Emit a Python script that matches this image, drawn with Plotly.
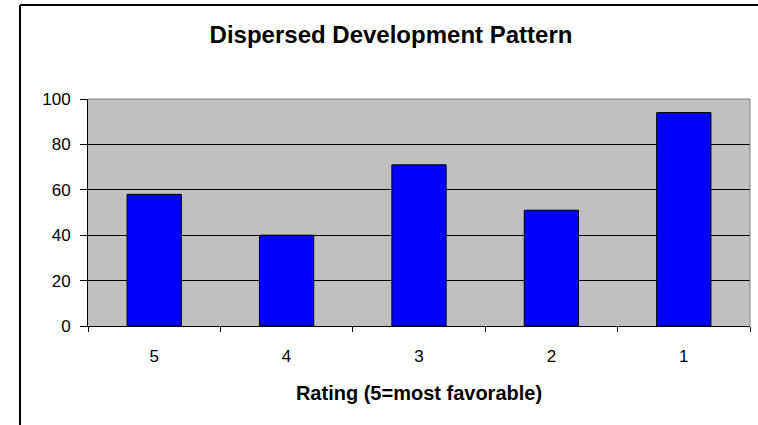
import plotly.graph_objects as go

ratings = ["5", "4", "3", "2", "1"]
counts = [58, 40, 71, 51, 94]

chart_title = "Dispersed Development Pattern"
x_title = "Rating (5=most favorable)"
y_ticks = [0, 20, 40, 60, 80, 100]

font_family = "Liberation Sans, Arial, sans-serif"

fig = go.Figure()
fig.add_trace(go.Bar(x=ratings, y=counts, width=0.41,
                     marker=dict(color="#0000FF", line=dict(color="black", width=1))))

fig.update_layout(
    width=758, height=425,
    margin=dict(l=88, r=8, t=99, b=99),
    paper_bgcolor="white", plot_bgcolor="#C0C0C0",
    showlegend=False,
    font=dict(family=font_family, color="black", size=17),
    title=dict(text="<b>" + chart_title + "</b>", x=391 / 758, y=1 - 35 / 425,
               xanchor="center", yanchor="middle",
               font=dict(size=24, family=font_family, color="black")),
)

fig.update_xaxes(type="category", tickson="boundaries", ticks="outside", ticklen=5,
                 tickcolor="black", showline=True, linecolor="black", linewidth=1,
                 showgrid=False, ticklabelstandoff=15,
                 title=dict(text="<b>" + x_title + "</b>", standoff=20,
                            font=dict(size=20, family=font_family)))
fig.update_yaxes(range=[0, 100], tickvals=y_ticks, ticks="outside", ticklen=7,
                 tickcolor="black", showline=True, linecolor="black", linewidth=1,
                 showgrid=True, gridcolor="black", gridwidth=1, zeroline=False,
                 ticklabelstandoff=6)

# grey top/right edge of the plot area
fig.add_shape(type="line", xref="paper", yref="paper", x0=0, x1=1, y0=1, y1=1,
              line=dict(color="#808080", width=1), layer="above")
fig.add_shape(type="line", xref="paper", yref="paper", x0=1, x1=1, y0=0, y1=1,
              line=dict(color="#808080", width=1), layer="above")

# outer chart frame: left and top edges (the rest runs off the picture)
frame_x = (20 - 88) / 662
frame_y = (326 - 5) / 227
fig.add_shape(type="line", xref="paper", yref="paper", x0=frame_x, x1=1.2,
              y0=frame_y, y1=frame_y, line=dict(color="black", width=2), layer="above")
fig.add_shape(type="line", xref="paper", yref="paper", x0=frame_x, x1=frame_x,
              y0=-0.6, y1=frame_y, line=dict(color="black", width=2), layer="above")

# drop the browser's default body margin so the figure sits at the page corner
fig.write_html("out.html", config={"displayModeBar": False},
               post_script="document.body.style.margin='0';")
